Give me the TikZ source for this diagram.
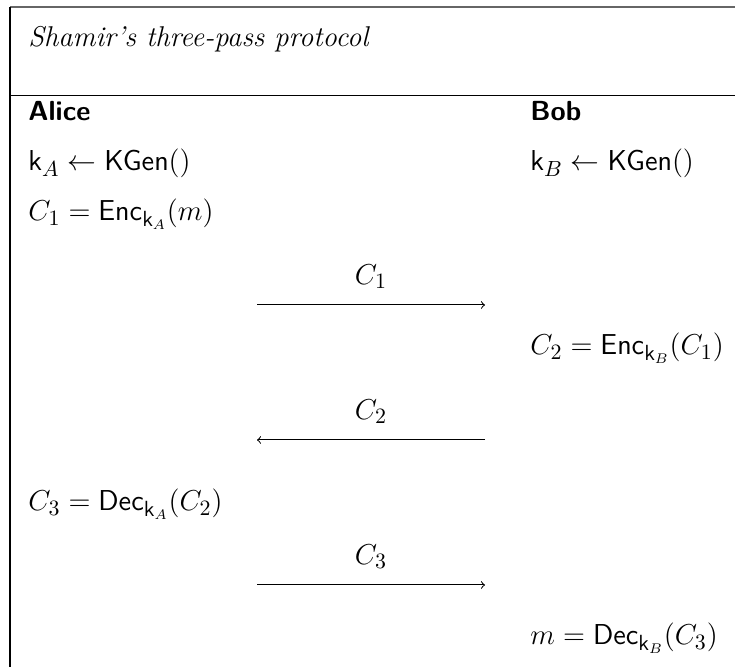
\documentclass[tikz,border=0pt]{standalone}
\usepackage{amsmath}
\begin{document}
\begin{tikzpicture}[x=0.5pt,y=-0.5pt,
  txt/.style={anchor=base west,inner sep=0pt,font=\fontsize{15}{17}\selectfont},
  lbl/.style={anchor=base,inner sep=0pt,font=\fontsize{15}{17}\selectfont},
  hdr/.style={anchor=base west,inner sep=0pt,font=\fontsize{13.8}{16}\selectfont\sffamily\bfseries},
  msg/.style={->,line width=0.5pt}]
\useasboundingbox (0,0) rectangle (735,667);
\draw[line width=1pt,gray!80!black] (10,7) -- (735,7);
\draw[line width=0.8pt,black] (10,7) -- (10,667);
\draw[line width=0.5pt] (10,96) -- (735,96);
\node[txt,font=\fontsize{14.3}{17}\selectfont\itshape] (title) at (28,47) {Shamir's three-pass protocol};
\node[hdr] (alice) at (28,121) {Alice};
\node[hdr] (bob) at (530,121) {Bob};
\node[txt] (ka) at (28,171) {$\mathsf{k}_A \leftarrow \mathsf{KGen}()$};
\node[txt] (kb) at (530,171) {$\mathsf{k}_B \leftarrow \mathsf{KGen}()$};
\node[txt] (c1) at (28,221) {$C_1 = \mathsf{Enc}_{\mathsf{k}_A}(m)$};
\coordinate (a1s) at (257,305);
\coordinate (a1e) at (485,305);
\draw[msg] (a1s) -- node[lbl,above=8pt] (l1) {$C_1$} (a1e);
\node[txt] (c2) at (530,355) {$C_2 = \mathsf{Enc}_{\mathsf{k}_B}(C_1)$};
\coordinate (a2s) at (485,440);
\coordinate (a2e) at (257,440);
\draw[msg] (a2s) -- node[lbl,above=8pt] (l2) {$C_2$} (a2e);
\node[txt] (c3) at (28,511) {$C_3 = \mathsf{Dec}_{\mathsf{k}_A}(C_2)$};
\coordinate (a3s) at (257,585);
\coordinate (a3e) at (485,585);
\draw[msg] (a3s) -- node[lbl,above=8pt] (l3) {$C_3$} (a3e);
\node[txt] (m) at (530,645) {$m = \mathsf{Dec}_{\mathsf{k}_B}(C_3)$};
\end{tikzpicture}
\end{document}
